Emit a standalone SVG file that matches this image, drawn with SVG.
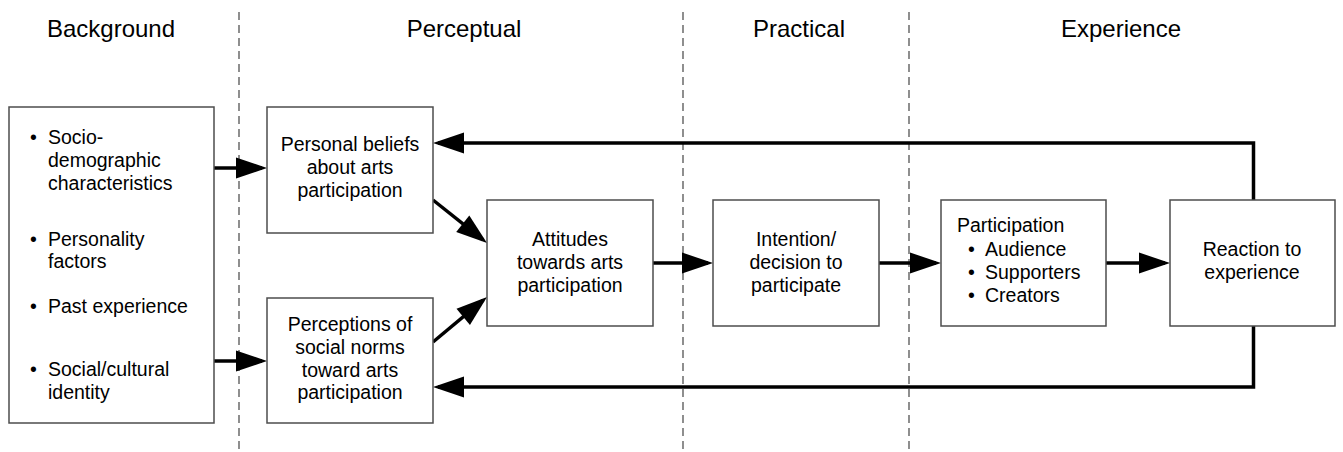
<svg xmlns="http://www.w3.org/2000/svg" width="1343" height="452" viewBox="0 0 1343 452">
<style>
.hdr{font-family:"Liberation Sans",Arial,sans-serif;font-size:24px;fill:#000;text-anchor:middle}
.t{font-family:"Liberation Sans",Arial,sans-serif;font-size:19.5px;fill:#000}
.c{text-anchor:middle}
.box{fill:#fff;stroke:#4d4d4d;stroke-width:1.5}
.div{stroke:#333;stroke-width:1.1;stroke-dasharray:8 5;fill:none}
.con{stroke:#000;stroke-width:3.5;fill:none;stroke-linejoin:miter;marker-end:url(#ah)}
</style>
<defs>
<marker id="ah" markerUnits="userSpaceOnUse" markerWidth="31" markerHeight="21" refX="26" refY="10.5" orient="auto" overflow="visible">
<path d="M0,0 L31,10.5 L0,21 Z" fill="#000"/>
</marker>
</defs>
<rect width="1343" height="452" fill="#fff"/>
<g id="dividers">
<line class="div" x1="239" y1="12" x2="239" y2="452"/>
<line class="div" x1="683" y1="12" x2="683" y2="452"/>
<line class="div" x1="909" y1="12" x2="909" y2="452"/>
</g>
<g id="headers">
<text class="hdr" x="111" y="37">Background</text>
<text class="hdr" x="464" y="37">Perceptual</text>
<text class="hdr" x="799" y="37">Practical</text>
<text class="hdr" x="1121" y="37">Experience</text>
</g>
<g id="connectors">
<line class="con" x1="214" y1="168" x2="262" y2="168"/>
<line class="con" x1="214" y1="361" x2="262" y2="361"/>
<line class="con" x1="433" y1="200" x2="483.1" y2="239.9"/>
<line class="con" x1="433" y1="342" x2="483.2" y2="300.2"/>
<line class="con" x1="653" y1="263" x2="708" y2="263"/>
<line class="con" x1="879" y1="263" x2="936" y2="263"/>
<line class="con" x1="1106" y1="263" x2="1165" y2="263"/>
<polyline class="con" points="1253.5,200 1253.5,143 438,143"/>
<polyline class="con" points="1253.5,326 1253.5,387 438,387"/>
</g>
<g id="background">
<rect class="box" x="9" y="107" width="205" height="316"/>
<g class="t">
<text x="30" y="144">•</text><text x="48" y="144">Socio-</text>
<text x="48" y="167">demographic</text>
<text x="48" y="190">characteristics</text>
<text x="30" y="246">•</text><text x="48" y="246">Personality</text>
<text x="48" y="268">factors</text>
<text x="30" y="313">•</text><text x="48" y="313">Past experience</text>
<text x="30" y="376">•</text><text x="48" y="376">Social/cultural</text>
<text x="48" y="399">identity</text>
</g>
</g>
<g id="personal-beliefs">
<rect class="box" x="267" y="107" width="166" height="126"/>
<text class="t c" x="350" y="151">Personal beliefs</text>
<text class="t c" x="350" y="174">about arts</text>
<text class="t c" x="350" y="197">participation</text>
</g>
<g id="social-norms">
<rect class="box" x="267" y="298" width="166" height="125"/>
<text class="t c" x="350" y="331">Perceptions of</text>
<text class="t c" x="350" y="354">social norms</text>
<text class="t c" x="350" y="377">toward arts</text>
<text class="t c" x="350" y="399">participation</text>
</g>
<g id="attitudes">
<rect class="box" x="487" y="200" width="166" height="126"/>
<text class="t c" x="570" y="246">Attitudes</text>
<text class="t c" x="570" y="269">towards arts</text>
<text class="t c" x="570" y="292">participation</text>
</g>
<g id="intention">
<rect class="box" x="713" y="200" width="166" height="126"/>
<text class="t c" x="796" y="246">Intention/</text>
<text class="t c" x="796" y="269">decision to</text>
<text class="t c" x="796" y="292">participate</text>
</g>
<g id="participation">
<rect class="box" x="941" y="200" width="165" height="126"/>
<g class="t">
<text x="957" y="232">Participation</text>
<text x="968" y="256">•</text><text x="985" y="256">Audience</text>
<text x="968" y="279">•</text><text x="985" y="279">Supporters</text>
<text x="968" y="302">•</text><text x="985" y="302">Creators</text>
</g>
</g>
<g id="reaction">
<rect class="box" x="1170" y="200" width="165" height="126"/>
<text class="t c" x="1252" y="256">Reaction to</text>
<text class="t c" x="1252" y="279">experience</text>
</g>
</svg>
